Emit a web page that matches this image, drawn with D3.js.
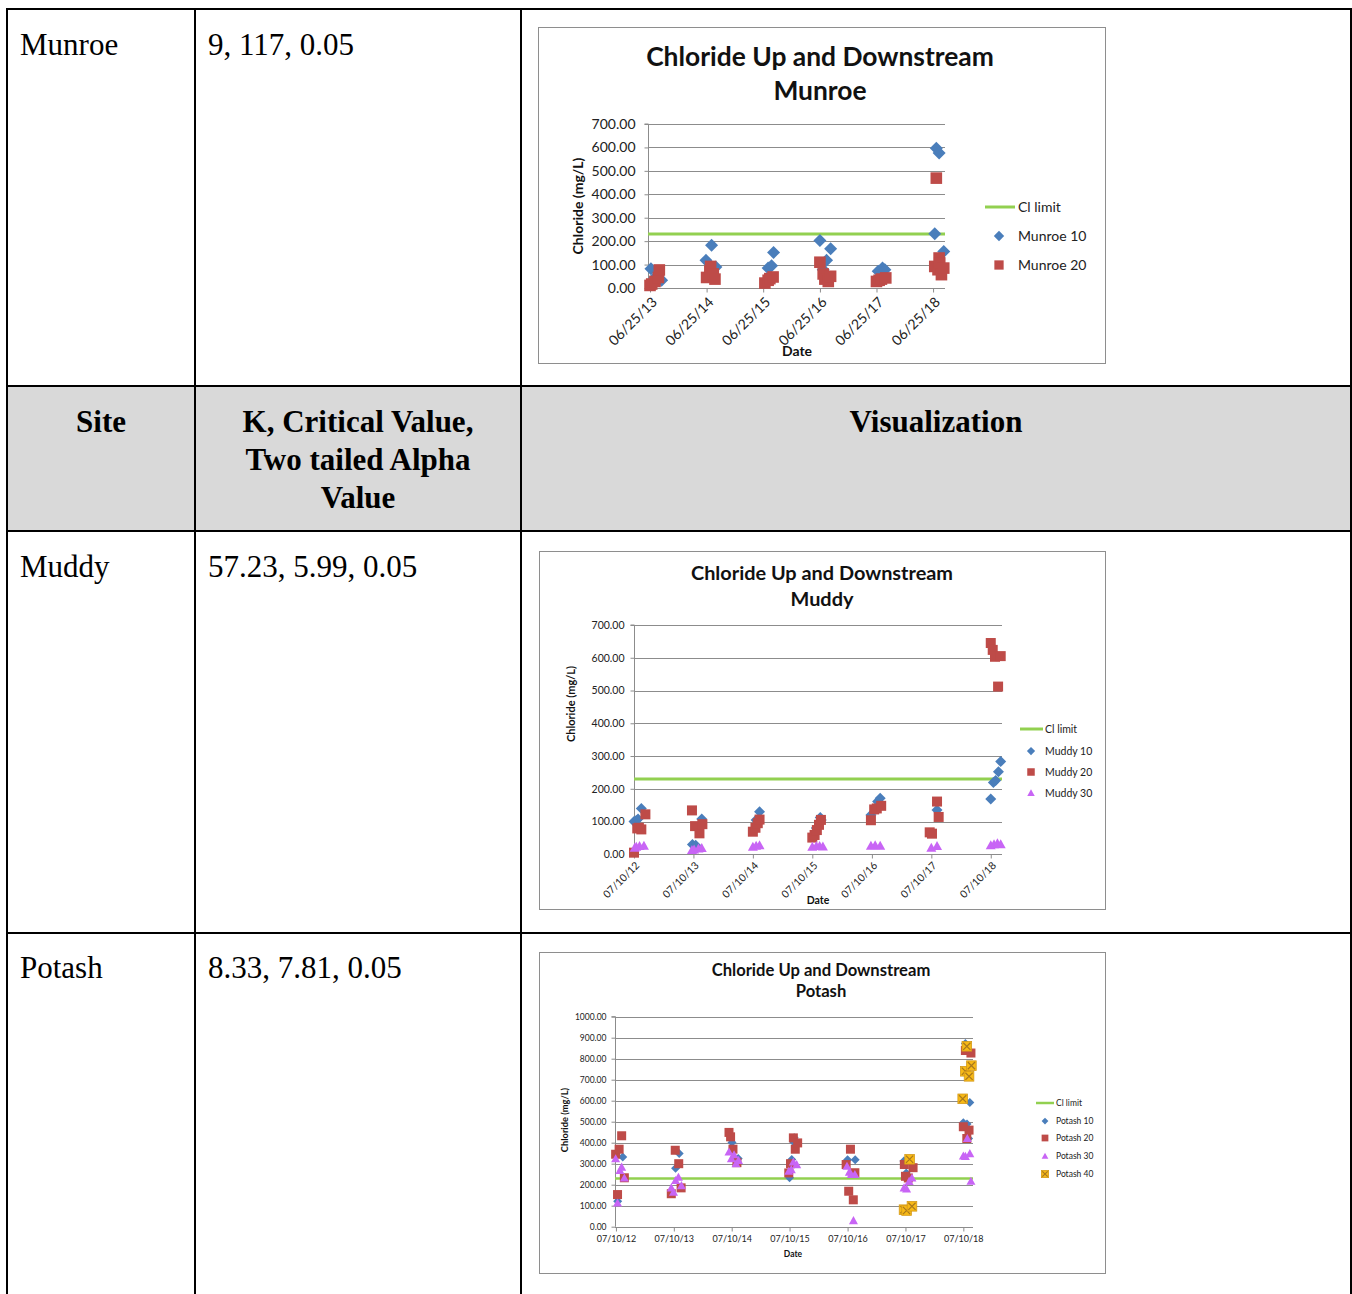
<!DOCTYPE html>
<html>
<head>
<meta charset="utf-8">
<script src="https://cdn.jsdelivr.net/npm/d3@7"></script>
<style>
  body { margin: 0; background: #fff; }
  svg { display: block; }
</style>
</head>
<body>
<svg id="page" width="1352" height="1294"></svg>
<script>
// ---------- Table content ----------
const siteNames = ["Munroe", "Muddy", "Potash"];
const siteStats = ["9, 117, 0.05", "57.23, 5.99, 0.05", "8.33, 7.81, 0.05"];
const headerSite = ["Site"];
const headerStats = ["K, Critical Value,", "Two tailed Alpha", "Value"];
const headerViz = ["Visualization"];

// ---------- Chloride limit (mg/L) ----------
const clLimit = 230;

// ---------- Munroe ----------
const munroeTicks = ["2013-06-25", "2014-06-25", "2015-06-25", "2016-06-25", "2017-06-25", "2018-06-25"];
const munroeYTicks = [0, 100, 200, 300, 400, 500, 600, 700];
const munroe10 = [
  ["2013-07-01", 82], ["2013-07-27", 45], ["2013-09-08", 33],
  ["2014-06-21", 118], ["2014-07-27", 182], ["2014-08-24", 90],
  ["2015-07-27", 85], ["2015-08-18", 95], ["2015-08-31", 152],
  ["2016-06-25", 203], ["2016-07-16", 78], ["2016-08-07", 118], ["2016-09-02", 167],
  ["2017-07-06", 71], ["2017-08-03", 85], ["2017-08-18", 78],
  ["2018-07-06", 232], ["2018-07-16", 597], ["2018-07-27", 100], ["2018-08-03", 576], ["2018-09-02", 156]
];
const munroe20 = [
  ["2013-06-25", 11], ["2013-07-06", 17], ["2013-07-27", 28], ["2013-08-18", 45], ["2013-08-24", 77],
  ["2014-06-25", 45], ["2014-07-16", 72], ["2014-07-21", 92], ["2014-08-07", 60], ["2014-08-18", 38],
  ["2015-07-06", 21], ["2015-07-27", 33], ["2015-08-07", 40], ["2015-08-28", 47],
  ["2016-06-25", 110], ["2016-07-16", 60], ["2016-07-27", 38], ["2016-08-18", 28], ["2016-09-02", 50],
  ["2017-06-25", 28], ["2017-07-12", 33], ["2017-07-27", 38], ["2017-08-24", 43],
  ["2018-07-06", 92], ["2018-07-16", 469], ["2018-07-27", 78], ["2018-08-03", 128],
  ["2018-08-07", 107], ["2018-08-18", 57], ["2018-09-02", 85]
];

// ---------- Muddy ----------
const muddyTicks = ["2012-07-10", "2013-07-10", "2014-07-10", "2015-07-10", "2016-07-10", "2017-07-10", "2018-07-10"];
const muddyYTicks = [0, 100, 200, 300, 400, 500, 600, 700];
const muddy10 = [
  ["2012-07-10", 100], ["2012-07-24", 103], ["2012-08-04", 108], ["2012-08-24", 140],
  ["2013-07-04", 30], ["2013-07-24", 28], ["2013-08-30", 108],
  ["2014-07-30", 105], ["2014-08-20", 130],
  ["2015-08-04", 80], ["2015-08-28", 112], ["2015-09-03", 105],
  ["2016-07-04", 120], ["2016-08-14", 161], ["2016-08-30", 171],
  ["2017-08-14", 135],
  ["2018-07-10", 169], ["2018-07-26", 219], ["2018-08-09", 225], ["2018-08-26", 252], ["2018-09-09", 283]
];
const muddy20 = [
  ["2012-07-10", 5], ["2012-07-30", 79], ["2012-08-09", 81], ["2012-08-24", 76], ["2012-09-18", 122],
  ["2013-07-01", 134], ["2013-07-20", 86], ["2013-08-16", 64], ["2013-09-03", 92],
  ["2014-07-10", 69], ["2014-07-26", 81], ["2014-08-09", 95], ["2014-08-20", 106],
  ["2015-07-10", 51], ["2015-07-24", 59], ["2015-08-07", 74], ["2015-08-20", 90], ["2015-09-01", 105],
  ["2016-07-04", 104], ["2016-07-24", 137], ["2016-08-09", 140], ["2016-09-05", 148],
  ["2017-06-30", 67], ["2017-07-14", 63], ["2017-08-14", 161], ["2017-08-24", 114],
  ["2018-07-10", 645], ["2018-07-22", 624], ["2018-08-05", 603], ["2018-08-24", 512], ["2018-09-09", 605]
];
const muddy30 = [
  ["2012-07-14", 20], ["2012-07-24", 23], ["2012-08-13", 25], ["2012-09-09", 26],
  ["2013-07-01", 13], ["2013-07-14", 15], ["2013-08-10", 18], ["2013-08-30", 19],
  ["2014-07-10", 23], ["2014-07-30", 26], ["2014-08-20", 28],
  ["2015-07-10", 23], ["2015-08-04", 25], ["2015-08-24", 25], ["2015-09-13", 24],
  ["2016-07-04", 26], ["2016-07-30", 28], ["2016-08-30", 26],
  ["2017-07-10", 20], ["2017-08-14", 25],
  ["2018-07-10", 28], ["2018-07-30", 31], ["2018-08-20", 34], ["2018-09-09", 31]
];

// ---------- Potash ----------
const potashTicks = ["2012-07-10", "2013-07-10", "2014-07-10", "2015-07-10", "2016-07-10", "2017-07-10", "2018-07-10"];
const potashYTicks = [0, 100, 200, 300, 400, 500, 600, 700, 800, 900, 1000];
const potash10 = [
  ["2012-07-21", 121], ["2012-08-22", 332],
  ["2013-07-21", 278], ["2013-08-13", 348],
  ["2014-07-12", 401], ["2014-08-20", 325],
  ["2015-07-10", 233], ["2015-07-24", 320], ["2015-08-03", 404], ["2015-08-08", 423],
  ["2016-07-10", 319], ["2016-08-27", 319],
  ["2017-06-30", 313], ["2017-07-15", 256],
  ["2018-07-10", 495], ["2018-07-23", 872], ["2018-08-02", 489], ["2018-08-12", 420], ["2018-08-20", 591]
];
const potash20 = [
  ["2012-07-08", 345], ["2012-07-20", 153], ["2012-07-30", 369], ["2012-08-15", 433], ["2012-09-01", 233],
  ["2013-06-24", 157], ["2013-07-19", 364], ["2013-08-10", 300], ["2013-08-25", 185],
  ["2014-06-23", 449], ["2014-07-03", 428], ["2014-07-18", 369], ["2014-08-12", 305],
  ["2015-07-05", 256], ["2015-07-16", 300], ["2015-08-03", 423], ["2015-08-15", 369], ["2015-08-30", 399],
  ["2016-07-01", 296], ["2016-07-17", 169], ["2016-07-28", 369], ["2016-08-15", 128], ["2016-08-25", 257],
  ["2017-07-03", 296], ["2017-07-10", 240], ["2017-07-28", 232], ["2017-08-27", 281],
  ["2018-07-10", 476], ["2018-07-23", 839], ["2018-08-01", 420], ["2018-08-15", 460], ["2018-08-27", 827]
];
const potash30 = [
  ["2012-07-08", 324], ["2012-07-20", 113], ["2012-08-04", 268], ["2012-08-15", 284], ["2012-09-01", 232],
  ["2013-06-24", 185], ["2013-07-08", 165], ["2013-07-21", 220], ["2013-08-08", 236], ["2013-08-27", 196],
  ["2014-06-23", 356], ["2014-07-08", 324], ["2014-07-25", 343], ["2014-08-06", 300], ["2014-08-22", 316],
  ["2015-07-05", 264], ["2015-07-21", 272], ["2015-08-03", 308], ["2015-08-24", 296],
  ["2016-07-06", 288], ["2016-07-21", 260], ["2016-08-02", 249], ["2016-08-25", 249], ["2016-08-16", 29],
  ["2017-07-01", 185], ["2017-07-17", 180], ["2017-08-02", 216], ["2017-08-20", 232],
  ["2018-07-10", 337], ["2018-07-23", 335], ["2018-08-04", 420], ["2018-08-20", 348], ["2018-08-27", 217]
];
const potash40 = [
  ["2017-07-01", 81], ["2017-07-17", 77], ["2017-08-05", 321], ["2017-08-20", 97],
  ["2018-07-06", 609], ["2018-07-23", 740], ["2018-08-01", 859], ["2018-08-15", 716], ["2018-08-30", 767]
];

// ---------- Styling ----------
const BLUE = "#4a7ebb", RED = "#be4b48", PURPLE = "#c865f5", ORANGE = "#f7b916", GREEN = "#92d050";
const GRID = "#8c8c8c";
const SERIF = "'Liberation Serif', 'Times New Roman', serif";
const SANS = "Lato, 'Open Sans', sans-serif";
const parseDate = d3.utcParse("%Y-%m-%d");
const fmtDate = d3.utcFormat("%m/%d/%y");
const fmtVal = d3.format(".2f");

const svg = d3.select("#page");
svg.append("rect").attr("width", 1352).attr("height", 1294).attr("fill", "#fff");

// ---------- Table ----------
const colX = [7, 195, 521, 1351];
const rowY = [9, 386, 531, 933, 1300];
const table = svg.append("g");

// header row shading
table.append("rect")
  .attr("x", colX[0]).attr("y", rowY[1])
  .attr("width", colX[3] - colX[0]).attr("height", rowY[2] - rowY[1])
  .attr("fill", "#d9d9d9");

const rules = table.append("g").attr("stroke", "#000").attr("stroke-width", 2);
colX.forEach(x => rules.append("line").attr("x1", x).attr("x2", x).attr("y1", rowY[0]).attr("y2", 1294));
rowY.slice(0, 4).forEach(y => rules.append("line").attr("x1", colX[0] - 1).attr("x2", colX[3] + 1).attr("y1", y).attr("y2", y));

// body cells
const bodyBaselines = [55, 577, 978];
siteNames.forEach((name, i) => {
  table.append("text").attr("x", 20).attr("y", bodyBaselines[i])
    .attr("font-family", SERIF).attr("font-size", 31).attr("fill", "#000").text(name);
  table.append("text").attr("x", 208).attr("y", bodyBaselines[i])
    .attr("font-family", SERIF).attr("font-size", 31).attr("fill", "#000").text(siteStats[i]);
});

// header cells
function headerCell(lines, cx) {
  lines.forEach((t, k) => {
    table.append("text").attr("x", cx).attr("y", 432 + k * 38)
      .attr("text-anchor", "middle").attr("font-family", SERIF)
      .attr("font-weight", "bold").attr("font-size", 31).attr("fill", "#000").text(t);
  });
}
headerCell(headerSite, (colX[0] + colX[1]) / 2);
headerCell(headerStats, (colX[1] + colX[2]) / 2);
headerCell(headerViz, (colX[2] + colX[3]) / 2);

// ---------- Marker shapes ----------
function drawMarker(sel, shape, r, color) {
  if (shape === "diamond") {
    sel.append("path").attr("d", `M0,${-r}L${r},0L0,${r}L${-r},0Z`).attr("fill", color);
  } else if (shape === "square") {
    sel.append("rect").attr("x", -r).attr("y", -r).attr("width", 2 * r).attr("height", 2 * r).attr("fill", color);
  } else if (shape === "triangle") {
    sel.append("path").attr("d", `M0,${-r}L${r},${r * 0.8}L${-r},${r * 0.8}Z`).attr("fill", color);
  } else if (shape === "xsquare") {
    sel.append("rect").attr("x", -r).attr("y", -r).attr("width", 2 * r).attr("height", 2 * r)
      .attr("fill", color).attr("stroke", "#d49a1a").attr("stroke-width", 0.8);
    const k = r * 0.75;
    sel.append("path").attr("d", `M${-k},${-k}L${k},${k}M${k},${-k}L${-k},${k}`)
      .attr("stroke", "#a8781e").attr("stroke-width", 1.2);
  }
}

// ---------- Chart ----------
function drawChart(cfg) {
  const g = svg.append("g");
  g.append("rect").attr("x", cfg.box[0] + 0.5).attr("y", cfg.box[1] + 0.5)
    .attr("width", cfg.box[2] - cfg.box[0]).attr("height", cfg.box[3] - cfg.box[1])
    .attr("fill", "#fff").attr("stroke", "#8e8e8e").attr("stroke-width", 1);

  // title
  cfg.title.forEach((t, k) => {
    g.append("text").attr("x", cfg.titleX).attr("y", cfg.titleY[k])
      .attr("text-anchor", "middle").attr("font-family", SANS).attr("font-weight", "bold")
      .attr("font-size", cfg.titleSize).attr("fill", "#111").text(t);
  });

  const x = d3.scaleUtc().domain([parseDate(cfg.start), parseDate(cfg.end)]).range([cfg.x0, cfg.x1]);
  const y = d3.scaleLinear().domain([0, cfg.yTicks[cfg.yTicks.length - 1]]).range([cfg.y0, cfg.y1]);

  // gridlines
  g.append("g").selectAll("line").data(cfg.yTicks.slice(1)).join("line")
    .attr("x1", cfg.x0).attr("x2", cfg.x1)
    .attr("y1", d => Math.round(y(d)) + 0.5).attr("y2", d => Math.round(y(d)) + 0.5)
    .attr("stroke", GRID).attr("stroke-width", 1);

  // y axis
  const yAxis = g.append("g").attr("transform", `translate(${cfg.x0 + 0.5},0)`)
    .call(d3.axisLeft(y).tickValues(cfg.yTicks).tickFormat(fmtVal).tickSize(4).tickPadding(cfg.yPad));
  yAxis.select(".domain").attr("stroke", GRID).attr("d", `M-4,${y(cfg.yTicks[cfg.yTicks.length - 1])}H0V${cfg.y0}`);
  yAxis.selectAll(".tick line").attr("stroke", GRID);
  yAxis.selectAll(".tick text").attr("font-family", SANS).attr("font-size", cfg.tickSize).attr("fill", "#222");

  // x axis
  const tickDates = cfg.xTicks.map(parseDate);
  const xAxis = g.append("g").attr("transform", `translate(0,${Math.round(cfg.y0) + 0.5})`)
    .call(d3.axisBottom(x).tickValues(tickDates).tickFormat(fmtDate).tickSize(4).tickPadding(4));
  xAxis.select(".domain").attr("stroke", GRID).attr("d", `M${cfg.x0},0H${cfg.x1}`);
  xAxis.selectAll(".tick line").attr("stroke", GRID);
  const xl = xAxis.selectAll(".tick text").attr("font-family", SANS).attr("font-size", cfg.xTickSize).attr("fill", "#222");
  if (cfg.rotate) {
    xl.attr("text-anchor", "end").attr("dy", "0.35em")
      .attr("transform", `translate(${cfg.rotOff[0]},${cfg.rotOff[1]}) rotate(-45)`).attr("y", 0).attr("x", 0);
  }

  // axis titles
  g.append("text").attr("x", cfg.dateLabel[0]).attr("y", cfg.dateLabel[1]).attr("text-anchor", "middle")
    .attr("font-family", SANS).attr("font-weight", "bold").attr("font-size", cfg.axisTitleSize).attr("fill", "#111").text("Date");
  g.append("text").attr("transform", `translate(${cfg.yLabel[0]},${cfg.yLabel[1]}) rotate(-90)`)
    .attr("text-anchor", "middle").attr("font-family", SANS).attr("font-weight", "bold")
    .attr("font-size", cfg.yTitleSize).attr("fill", "#111").text("Chloride  (mg/L)");

  // chloride limit
  g.append("line").attr("x1", cfg.x0).attr("x2", cfg.x1).attr("y1", y(clLimit)).attr("y2", y(clLimit))
    .attr("stroke", GREEN).attr("stroke-width", cfg.limitWidth);

  // series markers
  cfg.series.forEach(s => {
    g.append("g").selectAll("g").data(s.data).join("g")
      .attr("transform", d => `translate(${x(parseDate(d[0]))},${y(d[1])})`)
      .each(function () { drawMarker(d3.select(this), s.shape, s.r, s.color); });
  });

  // legend
  const L = cfg.legend;
  g.append("line").attr("x1", L.lineX[0]).attr("x2", L.lineX[1]).attr("y1", L.y[0]).attr("y2", L.y[0])
    .attr("stroke", GREEN).attr("stroke-width", cfg.limitWidth);
  g.append("text").attr("x", L.textX).attr("y", L.y[0]).attr("dy", "0.35em")
    .attr("font-family", SANS).attr("font-size", L.size).attr("fill", "#222").text("Cl limit");
  cfg.series.forEach((s, i) => {
    const m = g.append("g").attr("transform", `translate(${L.markX},${L.y[i + 1]})`);
    drawMarker(m, s.shape, s.r * L.scale, s.color);
    g.append("text").attr("x", L.textX).attr("y", L.y[i + 1]).attr("dy", "0.35em")
      .attr("font-family", SANS).attr("font-size", L.size).attr("fill", "#222").text(s.name);
  });
}

drawChart({
  box: [538, 27, 1105, 363],
  title: ["Chloride Up and Downstream", "Munroe"], titleX: 820, titleY: [66, 100], titleSize: 26.4,
  start: "2013-06-12", end: "2018-09-10", x0: 648, x1: 945, y0: 288, y1: 124,
  xTicks: munroeTicks, yTicks: munroeYTicks, yPad: 9, tickSize: 14, xTickSize: 14,
  rotate: true, rotOff: [4, 11],
  dateLabel: [797, 356], yLabel: [583, 206], axisTitleSize: 14, yTitleSize: 14, limitWidth: 3,
  series: [
    { name: "Munroe 10", data: munroe10, shape: "diamond", r: 6.5, color: BLUE },
    { name: "Munroe 20", data: munroe20, shape: "square", r: 5.8, color: RED }
  ],
  legend: { lineX: [985, 1015], textX: 1018, markX: 999, y: [207, 236, 265], size: 14, scale: 0.8 }
});

drawChart({
  box: [539, 551, 1105, 909],
  title: ["Chloride Up and Downstream", "Muddy"], titleX: 822, titleY: [580, 606], titleSize: 19.9,
  start: "2012-07-10", end: "2018-09-17", x0: 634, x1: 1002, y0: 854.3, y1: 625,
  xTicks: muddyTicks, yTicks: muddyYTicks, yPad: 6, tickSize: 10.5, xTickSize: 10.5,
  rotate: true, rotOff: [3, 9],
  dateLabel: [818, 904], yLabel: [575, 704], axisTitleSize: 10.5, yTitleSize: 11, limitWidth: 3,
  series: [
    { name: "Muddy 10", data: muddy10, shape: "diamond", r: 5.5, color: BLUE },
    { name: "Muddy 20", data: muddy20, shape: "square", r: 5, color: RED },
    { name: "Muddy 30", data: muddy30, shape: "triangle", r: 5, color: PURPLE }
  ],
  legend: { lineX: [1020, 1043], textX: 1045, markX: 1031, y: [729, 751, 772, 793], size: 10.5, scale: 0.75 }
});

drawChart({
  box: [539, 952, 1105, 1273],
  title: ["Chloride Up and Downstream", "Potash"], titleX: 821, titleY: [976, 997], titleSize: 16.6,
  start: "2012-07-04", end: "2018-09-09", x0: 615, x1: 973, y0: 1226.7, y1: 1016.7,
  xTicks: potashTicks, yTicks: potashYTicks, yPad: 5, tickSize: 8.5, xTickSize: 9,
  rotate: false,
  dateLabel: [793, 1257], yLabel: [568, 1120], axisTitleSize: 8.5, yTitleSize: 9.3, limitWidth: 2.5,
  series: [
    { name: "Potash 10", data: potash10, shape: "diamond", r: 4.5, color: BLUE },
    { name: "Potash 20", data: potash20, shape: "square", r: 4.5, color: RED },
    { name: "Potash 30", data: potash30, shape: "triangle", r: 4.5, color: PURPLE },
    { name: "Potash 40", data: potash40, shape: "xsquare", r: 4.8, color: ORANGE }
  ],
  legend: { lineX: [1036, 1054], textX: 1056, markX: 1045, y: [1103, 1121, 1138, 1156, 1174], size: 8.5, scale: 0.75 }
});
</script>
</body>
</html>
